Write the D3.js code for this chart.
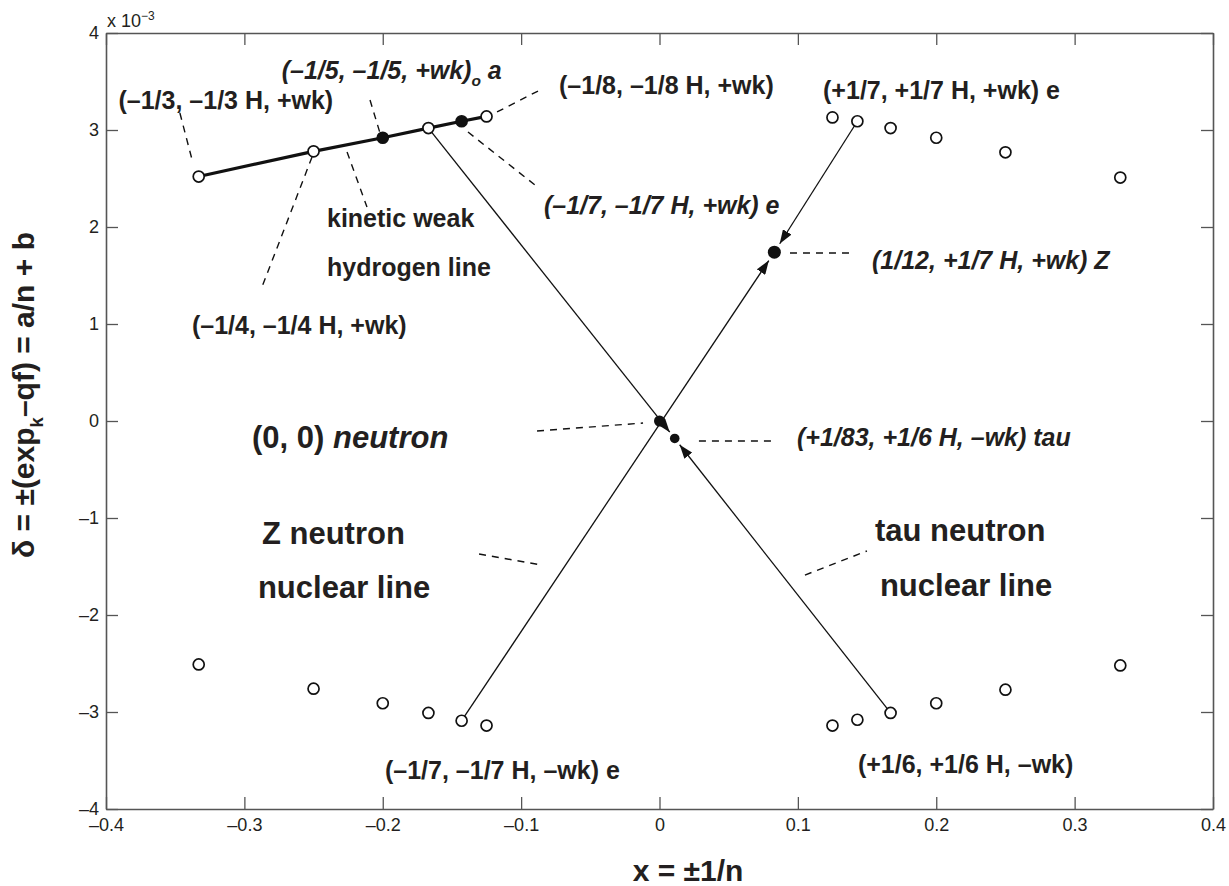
<!DOCTYPE html>
<html>
<head>
<meta charset="utf-8">
<script src="https://cdn.jsdelivr.net/npm/d3@7"></script>
<style>
body { margin: 0; background: #fff; }
text { font-family: "Liberation Sans", Arial, Helvetica, sans-serif; fill: #231f20; }
</style>
</head>
<body>
<div id="chart"></div>
<script>
var width = 1229,
    height = 886;

// axis ticks
var xTicks = [-0.4, -0.3, -0.2, -0.1, 0, 0.1, 0.2, 0.3, 0.4];
var xTickLabels = ["\u20130.4", "\u20130.3", "\u20130.2", "\u20130.1", "0", "0.1", "0.2", "0.3", "0.4"];
var yTicks = [-4, -3, -2, -1, 0, 1, 2, 3, 4];
var yTickLabels = ["\u20134", "\u20133", "\u20132", "\u20131", "0", "1", "2", "3", "4"];

// kinetic weak hydrogen line (upper left), delta in units of 1e-3
var hydX = [-0.333, -0.25, -0.2, -0.167, -0.143, -0.125];
var hydY = [2.52, 2.78, 2.92, 3.02, 3.09, 3.14];
var hydFilled = [false, false, true, false, true, false];

// other quadrants (open circles)
var upRightX = [0.125, 0.143, 0.167, 0.2, 0.25, 0.333];
var upRightY = [3.13, 3.09, 3.02, 2.92, 2.77, 2.51];
var lowLeftX = [-0.333, -0.25, -0.2, -0.167, -0.143, -0.125];
var lowLeftY = [-2.51, -2.76, -2.91, -3.01, -3.09, -3.14];
var lowRightX = [0.125, 0.143, 0.167, 0.2, 0.25, 0.333];
var lowRightY = [-3.14, -3.08, -3.01, -2.91, -2.77, -2.52];

// filled special points
var specialNames = ["neutron", "tau", "Z"];
var specialX = [0, 0.011, 0.083];
var specialY = [0, -0.18, 1.74];

// nuclear lines: start point -> special point
var arrowFromX = [-0.167, 0.167, -0.143, 0.143];
var arrowFromY = [3.02, -3.01, -3.09, 3.09];
var arrowTo = ["tau", "tau", "Z", "Z"];

var x = d3.scaleLinear().domain([-0.4, 0.4]).range([106, 1213]);
var y = d3.scaleLinear().domain([-4, 4]).range([809, 33]);

var svg = d3.select("#chart").append("svg")
    .attr("width", width)
    .attr("height", height);

svg.append("defs").append("marker")
    .attr("id", "arrow")
    .attr("markerUnits", "userSpaceOnUse")
    .attr("viewBox", "0 0 14 10")
    .attr("refX", 14).attr("refY", 5)
    .attr("markerWidth", 14).attr("markerHeight", 10)
    .attr("orient", "auto")
  .append("path")
    .attr("d", "M0,0 L14,5 L0,10 Z")
    .attr("fill", "#111");

// axes (ticks inside, box)
var axisColor = "#555";
function styleAxis(g) {
  g.select(".domain").attr("stroke", axisColor).attr("stroke-width", 1.6);
  g.selectAll(".tick line").attr("stroke", axisColor).attr("stroke-width", 1.3);
  g.selectAll(".tick text").attr("font-size", 18).attr("fill", "#333")
    .attr("font-family", "'Liberation Sans', Arial, sans-serif");
}

svg.append("g").attr("transform", "translate(0,809)")
  .call(d3.axisBottom(x).tickValues(xTicks).tickSize(-12).tickSizeOuter(0).tickPadding(9)
    .tickFormat(function(d, i) { return xTickLabels[i]; }))
  .call(styleAxis);
svg.append("g").attr("transform", "translate(0,33)")
  .call(d3.axisTop(x).tickValues(xTicks).tickSize(-12).tickSizeOuter(0).tickFormat(""))
  .call(styleAxis);
svg.append("g").attr("transform", "translate(106,0)")
  .call(d3.axisLeft(y).tickValues(yTicks).tickSize(-12).tickSizeOuter(0).tickPadding(7)
    .tickFormat(function(d, i) { return yTickLabels[i]; }))
  .call(styleAxis);
svg.append("g").attr("transform", "translate(1213,0)")
  .call(d3.axisRight(y).tickValues(yTicks).tickSize(-12).tickSizeOuter(0).tickFormat(""))
  .call(styleAxis);

// exponent label
var expo = svg.append("text").attr("x", 107).attr("y", 27).attr("font-size", 18).attr("fill", "#333");
expo.append("tspan").text("x 10");
expo.append("tspan").text("\u22123").attr("font-size", 12).attr("dy", -7);

// rich text helper
function richText(px, py, size, parts, anchor) {
  var t = svg.append("text").attr("x", px).attr("y", py)
    .attr("font-size", size).attr("font-weight", "bold")
    .attr("text-anchor", anchor || "start");
  var shift = 0;
  parts.forEach(function(p) {
    var s = t.append("tspan").text(p.t);
    if (p.it) s.attr("font-style", "italic");
    var target = p.sub ? size * 0.3 : 0;
    if (target - shift !== 0) s.attr("dy", target - shift);
    shift = target;
    if (p.sub) s.attr("font-size", size * 0.62);
  });
  return t;
}

// dashed leader lines (data coords)
var leaders = [
  [-0.3466, 3.175, -0.3372, 2.66],
  [-0.2092, 3.309, -0.2020, 2.969],
  [-0.1174, 3.186, -0.0849, 3.423],
  [-0.1384, 2.979, -0.0900, 2.433],
  [-0.2258, 2.773, -0.2114, 2.206],
  [-0.2511, 2.722, -0.2873, 1.381],
  [0.0943, 1.732, 0.1391, 1.732],
  [-0.0885, -0.103, -0.0119, -0.021],
  [0.0285, -0.206, 0.0835, -0.206],
  [-0.1304, -1.371, -0.0849, -1.485],
  [0.1051, -1.588, 0.1499, -1.340]
];
svg.append("g").selectAll("line").data(leaders).enter().append("line")
  .attr("x1", function(d) { return x(d[0]); })
  .attr("y1", function(d) { return y(d[1]); })
  .attr("x2", function(d) { return x(d[2]); })
  .attr("y2", function(d) { return y(d[3]); })
  .attr("stroke", "#111").attr("stroke-width", 1.4)
  .attr("stroke-dasharray", "7,6");

// nuclear lines with arrows
function special(name) {
  var i = specialNames.indexOf(name);
  return [specialX[i], specialY[i]];
}
svg.append("g").selectAll("line").data(arrowTo).enter().append("line")
  .each(function(name, i) {
    var x1 = x(arrowFromX[i]), y1 = y(arrowFromY[i]);
    var t = special(name), x2 = x(t[0]), y2 = y(t[1]);
    var len = Math.hypot(x2 - x1, y2 - y1), gap = name === "Z" ? 10 : 8;
    d3.select(this)
      .attr("x1", x1).attr("y1", y1)
      .attr("x2", x2 - (x2 - x1) / len * gap)
      .attr("y2", y2 - (y2 - y1) / len * gap);
  })
  .attr("stroke", "#111").attr("stroke-width", 1.3)
  .attr("marker-end", "url(#arrow)");

// kinetic weak hydrogen line
svg.append("path")
  .datum(hydX)
  .attr("d", d3.line().x(function(d) { return x(d); }).y(function(d, i) { return y(hydY[i]); }))
  .attr("fill", "none").attr("stroke", "#111").attr("stroke-width", 3.2);

// open circles
function openCircles(xs, ys) {
  svg.append("g").selectAll("circle").data(xs).enter().append("circle")
    .attr("cx", function(d) { return x(d); })
    .attr("cy", function(d, i) { return y(ys[i]); })
    .attr("r", 5.5)
    .attr("fill", "#fff").attr("stroke", "#111").attr("stroke-width", 1.7);
}
openCircles(upRightX, upRightY);
openCircles(lowLeftX, lowLeftY);
openCircles(lowRightX, lowRightY);

svg.append("g").selectAll("circle").data(hydX).enter().append("circle")
  .attr("cx", function(d) { return x(d); })
  .attr("cy", function(d, i) { return y(hydY[i]); })
  .attr("r", 5.5)
  .attr("fill", function(d, i) { return hydFilled[i] ? "#111" : "#fff"; })
  .attr("stroke", "#111").attr("stroke-width", 1.7);

svg.append("g").selectAll("circle").data(specialNames).enter().append("circle")
  .attr("cx", function(d, i) { return x(specialX[i]); })
  .attr("cy", function(d, i) { return y(specialY[i]); })
  .attr("r", function(d) { return d === "Z" ? 6.5 : (d === "tau" ? 4.8 : 5.5); })
  .attr("fill", "#111");

// annotations (data coords of left edge / vertical centre)
var notes = [
  { x: -0.391, y: 3.31, s: 25, parts: [{ t: "(\u20131/3, \u20131/3 H, +wk)" }] },
  { x: -0.273, y: 3.62, s: 25, parts: [{ t: "(\u20131/5, \u20131/5, +wk)", it: true }, { t: "o", it: true, sub: true }, { t: " a", it: true }] },
  { x: -0.0726, y: 3.464, s: 25, parts: [{ t: "(\u20131/8, \u20131/8 H, +wk)" }] },
  { x: -0.0835, y: 2.227, s: 25, parts: [{ t: "(\u20131/7, \u20131/7 H, +wk) e", it: true }] },
  { x: -0.2403, y: 2.093, s: 25, parts: [{ t: "kinetic weak" }] },
  { x: -0.2403, y: 1.588, s: 25, parts: [{ t: "hydrogen line" }] },
  { x: -0.3379, y: 0.99, s: 25, parts: [{ t: "(\u20131/4, \u20131/4 H, +wk)" }] },
  { x: 0.1182, y: 3.412, s: 25, parts: [{ t: "(+1/7, +1/7 H, +wk) e" }] },
  { x: 0.1536, y: 1.66, s: 25, parts: [{ t: "(1/12, +1/7 H, +wk) Z", it: true }] },
  { x: -0.2945, y: -0.165, s: 31, parts: [{ t: "(0, 0) " }, { t: "neutron", it: true }] },
  { x: 0.0994, y: -0.17, s: 25, parts: [{ t: "(+1/83, +1/6 H, \u2013wk) tau", it: true }] },
  { x: -0.2873, y: -1.155, s: 31, parts: [{ t: "Z neutron" }] },
  { x: -0.2902, y: -1.711, s: 31, parts: [{ t: "nuclear line" }] },
  { x: 0.1557, y: -1.124, s: 31, parts: [{ t: "tau neutron" }] },
  { x: 0.1593, y: -1.691, s: 31, parts: [{ t: "nuclear line" }] },
  { x: -0.1984, y: -3.598, s: 25, parts: [{ t: "(\u20131/7, \u20131/7 H, \u2013wk) e" }] },
  { x: 0.1434, y: -3.536, s: 25, parts: [{ t: "(+1/6, +1/6 H, \u2013wk)" }] }
];
notes.forEach(function(n) {
  richText(x(n.x), y(n.y) + n.s * 0.36, n.s, n.parts);
});

// axis titles
richText(688, 881, 30, [{ t: "x = \u00b11/n" }], "middle");
var yl = richText(0, 0, 30, [{ t: "\u03b4 = \u00b1(exp" }, { t: "k", sub: true }, { t: "\u2013qf) = a/n + b" }], "middle");
yl.attr("transform", "translate(34,395) rotate(-90)");
</script>
</body>
</html>
